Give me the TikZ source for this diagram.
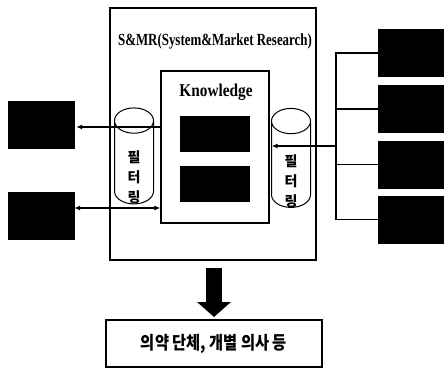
\documentclass[tikz,border=0pt]{standalone}
\usepackage{fontspec}
\setmainfont{Liberation Serif}
\newfontfamily\kor{Noto Sans CJK KR}
\newfontfamily\kornarrow{Noto Sans CJK KR}[FakeStretch=0.85]
\newfontfamily\titlefont{Liberation Serif}[FakeStretch=0.76]
\newfontfamily\knowfont{Liberation Serif}[FakeStretch=0.85]
\usetikzlibrary{arrows.meta, shapes.geometric, positioning}

\begin{document}
\begin{tikzpicture}[x=1pt, y=-1pt,
  frame/.style={draw, rectangle, inner sep=0pt},
  blackbox/.style={draw, fill=black, rectangle, inner sep=0pt,
                   minimum width=66pt, minimum height=47pt},
  inbox/.style={fill=black, inner sep=0pt,
                minimum width=70pt, minimum height=36pt},
  filter/.style={draw, line width=1pt, cylinder, shape border rotate=90,
                 aspect=1.7, minimum width=39pt, inner sep=1pt,
                 font=\kor\fontsize{14}{20}\selectfont},
  filtertext/.style={align=center, inner sep=0pt,
                     font=\kor\bfseries\fontsize{14}{20}\selectfont},
  normal/.style={-{Latex[length=6pt, width=5pt]}, line width=1.4pt},
  both/.style={{Latex[length=6pt, width=5pt]}-{Latex[length=6pt, width=5pt]},
               line width=1.4pt},
  bigarrow/.style={line width=16pt, -{Triangle[length=15pt, width=33pt]}}
]
\useasboundingbox (0,0) rectangle (444,369);

%% S&MR frame and knowledge block
\node[frame, line width=1.8pt, minimum width=206pt, minimum height=252pt]
      (smr) at (213,134) {};
\node[font=\titlefont\bfseries\fontsize{17}{19}\selectfont]
      (title) at (215,41) {S\&MR(System\&Market Research)};
\node[frame, line width=1.3pt, minimum width=108pt, minimum height=152pt]
      (know) at (215,147) {};
\node[font=\knowfont\bfseries\fontsize{18}{20}\selectfont]
      (ktitle) at (216,92) {Knowledge};
\node[inbox] (k1) at (215,134) {};
\node[inbox] (k2) at (215,184) {};

%% filters
\node[filter, minimum height=96pt] (fl) at (134,164.5) {\phantom{필}};
\node[filter, minimum height=99pt] (fr) at (291,166.5) {\phantom{필}};
\node[filtertext] (flt) at ([yshift=-12.5pt]fl.center) {필\\터\\링};
\node[filtertext] (frt) at ([yshift=-15pt]fr.center) {필\\터\\링};

%% left side
\node[blackbox] (lb1) at (41,124.5) {};
\node[blackbox] (lb2) at (41,215.5) {};
\draw[normal] (know.west |- 0,127) -- ([xshift=2pt]lb1.east |- 0,127);
\draw[both]   (lb2.east |- 0,208) -- (know.west |- 0,208);

%% right side
\node[blackbox] (rb1) at (411,53)  {};
\node[blackbox] (rb2) at (411,109) {};
\node[blackbox] (rb3) at (411,164.5) {};
\node[blackbox] (rb4) at (411,219.5) {};
\coordinate (bus) at (336,146);
\draw[line width=1.4pt] (rb1.west) -- (rb1.west -| bus) -- (rb4.west -| bus) -- (rb4.west);
\draw[line width=1.4pt] (rb2.west) -- (rb2.west -| bus);
\draw[line width=1.4pt] (rb3.west) -- (rb3.west -| bus);
\draw[normal] (bus) -- ([xshift=2pt]know.east |- bus);

%% result
\node[frame, line width=2pt, minimum width=216pt, minimum height=47pt,
      font=\kornarrow\bfseries\fontsize{18}{20}\selectfont]
      (dest) at (214,343.5) {의약 단체, 개별 의사 등};
\draw[bigarrow, shorten >=2pt] ([yshift=-7pt]smr.south -| dest.north) -- (dest.north);

\end{tikzpicture}
\end{document}
